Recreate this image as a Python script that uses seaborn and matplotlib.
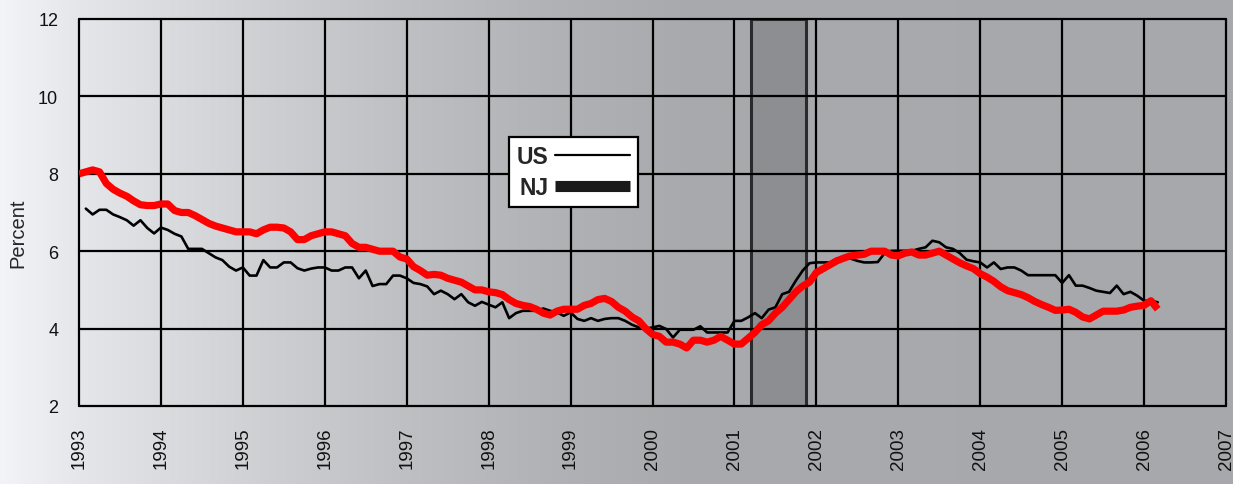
import numpy as np
import pandas as pd
import matplotlib
matplotlib.use("Agg")
import matplotlib.pyplot as plt
from matplotlib.lines import Line2D
import seaborn as sns

# ---------------- data ----------------
nj_start = (1993, 1)
nj_rate = [
    8.0, 8.05, 8.1, 8.05, 7.75, 7.6, 7.5, 7.42, 7.3, 7.2, 7.18, 7.18,      # 1993
    7.22, 7.22, 7.05, 7.0, 7.0, 6.92, 6.82, 6.72, 6.65, 6.6, 6.55, 6.5,    # 1994
    6.5, 6.5, 6.45, 6.55, 6.62, 6.62, 6.6, 6.5, 6.3, 6.3, 6.4, 6.45,       # 1995
    6.5, 6.5, 6.45, 6.4, 6.2, 6.1, 6.1, 6.05, 6.0, 6.0, 6.0, 5.85,         # 1996
    5.8, 5.6, 5.5, 5.38, 5.4, 5.38, 5.3, 5.25, 5.2, 5.1, 5.0, 5.0,         # 1997
    4.95, 4.93, 4.88, 4.75, 4.65, 4.6, 4.57, 4.5, 4.4, 4.35, 4.45, 4.5,    # 1998
    4.5, 4.5, 4.6, 4.65, 4.75, 4.78, 4.7, 4.55, 4.45, 4.3, 4.2, 4.0,       # 1999
    3.85, 3.8, 3.65, 3.65, 3.6, 3.5, 3.7, 3.7, 3.65, 3.7, 3.8, 3.7,        # 2000
    3.6, 3.6, 3.75, 3.9, 4.1, 4.2, 4.4, 4.55, 4.75, 4.95, 5.1, 5.2,        # 2001
    5.45, 5.55, 5.65, 5.75, 5.82, 5.88, 5.9, 5.92, 6.0, 6.0, 6.0, 5.9,     # 2002
    5.88, 5.95, 5.98, 5.9, 5.9, 5.95, 6.0, 5.9, 5.8, 5.7, 5.62, 5.55,      # 2003
    5.42, 5.33, 5.22, 5.08, 4.98, 4.93, 4.88, 4.8, 4.7, 4.62, 4.55, 4.47,  # 2004
    4.48, 4.5, 4.42, 4.3, 4.25, 4.35, 4.45, 4.45, 4.45, 4.48, 4.55, 4.58,  # 2005
    4.6, 4.72, 4.5,                                                        # 2006
]

us_start = (1993, 2)
us_rate = [
    7.1, 6.95, 7.07, 7.07, 6.95, 6.88, 6.8, 6.66, 6.8, 6.6, 6.46,          # 1993
    6.61, 6.55, 6.45, 6.38, 6.06, 6.06, 6.06, 5.95, 5.84, 5.77, 5.6, 5.5,  # 1994
    5.58, 5.37, 5.37, 5.77, 5.58, 5.58, 5.71, 5.71, 5.56, 5.5, 5.55, 5.58, # 1995
    5.58, 5.5, 5.5, 5.58, 5.58, 5.3, 5.5, 5.1, 5.15, 5.15, 5.37, 5.37,     # 1996
    5.3, 5.18, 5.15, 5.09, 4.89, 4.98, 4.89, 4.76, 4.89, 4.68, 4.59, 4.69, # 1997
    4.62, 4.55, 4.68, 4.27, 4.4, 4.46, 4.46, 4.46, 4.52, 4.46, 4.42, 4.33, # 1998
    4.42, 4.25, 4.2, 4.27, 4.2, 4.25, 4.27, 4.27, 4.2, 4.1, 4.03, 4.0,     # 1999
    4.03, 4.07, 3.99, 3.77, 3.97, 3.97, 3.97, 4.06, 3.9, 3.9, 3.9, 3.9,    # 2000
    4.2, 4.2, 4.29, 4.4, 4.27, 4.49, 4.55, 4.89, 4.95, 5.24, 5.5, 5.69,    # 2001
    5.71, 5.71, 5.71, 5.81, 5.81, 5.81, 5.75, 5.71, 5.71, 5.72, 5.95, 6.01,# 2002
    6.01, 6.01, 6.01, 6.06, 6.1, 6.27, 6.23, 6.1, 6.06, 5.95, 5.78, 5.74,  # 2003
    5.71, 5.58, 5.71, 5.54, 5.58, 5.58, 5.5, 5.38, 5.38, 5.38, 5.38, 5.38, # 2004
    5.18, 5.38, 5.11, 5.11, 5.05, 4.98, 4.95, 4.92, 5.11, 4.89, 4.95, 4.85,# 2005
    4.72, 4.72, 4.68,                                                      # 2006
]

recession = (2001.2, 2001.87)
x_ticks = list(range(1993, 2008))
y_ticks = [2, 4, 6, 8, 10, 12]
legend_labels = ["US", "NJ"]
y_label = "Percent"


def month_axis(start, n):
    y0, m0 = start
    return np.array([y0 + (m0 - 1 + i) / 12.0 for i in range(n)])


nj_df = pd.DataFrame({"t": month_axis(nj_start, len(nj_rate)), "rate": nj_rate})
us_df = pd.DataFrame({"t": month_axis(us_start, len(us_rate)), "rate": us_rate})

# ---------------- style ----------------
sns.set_theme(style="white")
plt.rcParams["font.family"] = ["Liberation Sans", "DejaVu Sans"]

W, H = 1233, 485
fig = plt.figure(figsize=(W / 100, H / 100), dpi=100)

# background gradient (figure-wide)
bg = fig.add_axes([0, 0, 1, 1], zorder=-10)
xs = np.arange(W)
gx = [0, 80, 250, 400, 550, 680, W]
gv = [243, 229, 208, 191, 177, 169, 167]
g = np.interp(xs, gx, gv) / 255.0
img = np.zeros((1, W, 3))
img[0, :, 0] = g
img[0, :, 1] = np.clip(g + 1 / 255, 0, 1)
img[0, :, 2] = np.clip(g + 4 / 255, 0, 1)
bg.imshow(img, aspect="auto", extent=[0, 1, 0, 1])
bg.set_axis_off()

ax = fig.add_axes([79 / W, (H - 407) / H, (1226 - 79) / W, (407 - 20) / H])
ax.patch.set_alpha(0)

# recession box
ax.axvspan(recession[0], recession[1], ymin=0, ymax=1, facecolor="#8c8e91",
           edgecolor="#2b2b2b", linewidth=2.2, zorder=1)

sns.lineplot(data=us_df, x="t", y="rate", ax=ax, color="black", linewidth=1.9,
             zorder=3, legend=False)
sns.lineplot(data=nj_df, x="t", y="rate", ax=ax, color="#ff0000", linewidth=5.2,
             zorder=4, legend=False, solid_joinstyle="round", solid_capstyle="butt")

ax.set_xlim(1993, 2007)
ax.set_ylim(2, 12)
ax.set_xticks(x_ticks)
ax.set_xticklabels([str(v) for v in x_ticks], rotation=90, fontsize=13.5)
ax.set_yticks(y_ticks)
ax.set_yticklabels([str(v) for v in y_ticks], fontsize=13)
ax.set_xlabel("")
ax.set_ylabel(y_label, fontsize=14.5)
ax.yaxis.set_label_coords(-0.045, 0.45)

ax.set_axisbelow("line")
ax.grid(True, color="black", linewidth=1.6)
for s in ax.spines.values():
    s.set_visible(False)
ax.tick_params(axis="x", direction="out", length=10, width=1.6, color="black",
               pad=5, labelcolor="#111111")
ax.tick_params(axis="y", direction="out", length=12, width=1.6, color="black",
               pad=3, labelcolor="#111111")
for gl in ax.get_xgridlines() + ax.get_ygridlines():
    gl.set_clip_on(False)

handles = [Line2D([], [], color="black", linewidth=1.6),
           Line2D([], [], color="#1a1a1a", linewidth=8, solid_capstyle="butt")]
leg = ax.legend(handles, legend_labels, loc="upper left",
                bbox_to_anchor=(509 / W, 1 - 138 / H), bbox_transform=fig.transFigure,
                markerfirst=False, frameon=True, fancybox=False, framealpha=1,
                facecolor="white", edgecolor="black", borderaxespad=0,
                prop={"weight": "bold", "size": 16.5}, handlelength=3.3,
                handletextpad=0.25, labelspacing=0.35, borderpad=0.35)
leg.get_frame().set_linewidth(1.6)
leg.set_zorder(10)

fig.savefig("out.png", dpi=100)
